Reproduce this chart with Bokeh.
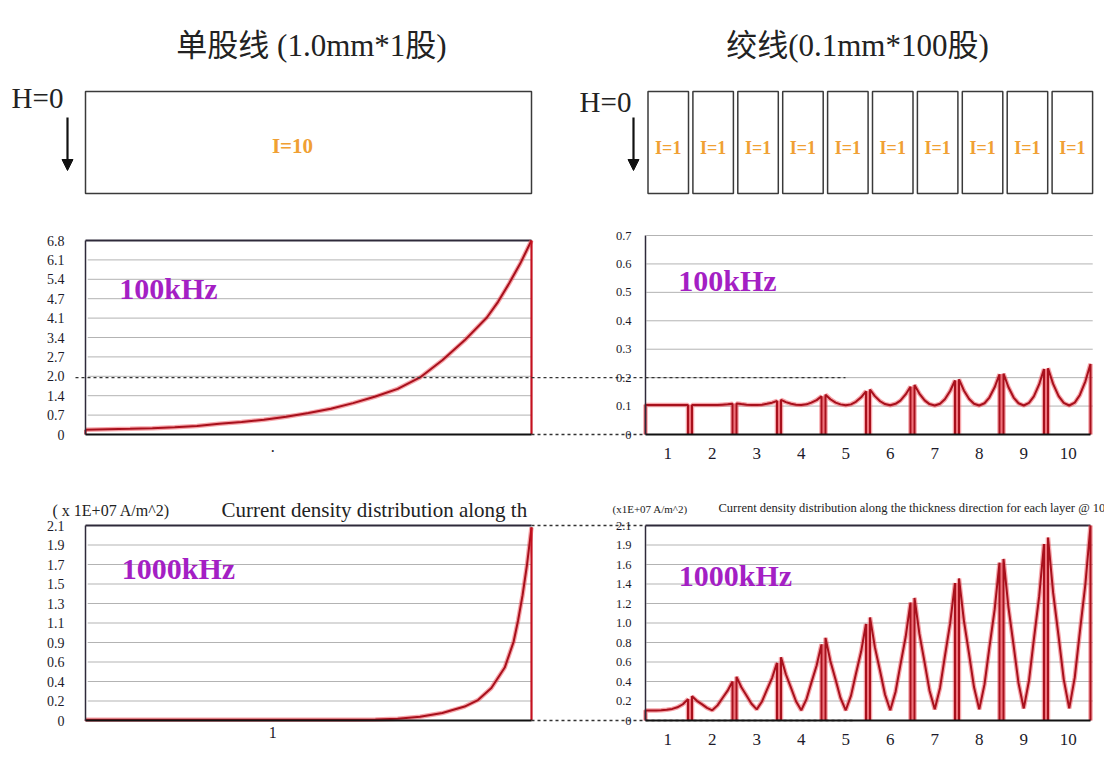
from bokeh.plotting import figure
from bokeh.models import Range1d, LinearAxis, FixedTicker, Arrow, NormalHead
from bokeh.core.properties import value as font_value
from bokeh.embed import file_html
from bokeh.resources import INLINE

# ------------------------------------------------------------------ data
left_title = "单股线 (1.0mm*1股)"
right_title = "绞线(0.1mm*100股)"
field_label = "H=0"
solid_label = "I=10"
strand_labels = ["I=1"] * 10
freq_low = "100kHz"
freq_high = "1000kHz"
unit_label_l = "( x 1E+07 A/m^2)"
unit_label_r = "(x1E+07 A/m^2)"
title_l = "Current density distribution along th"
title_r = "Current density distribution along the thickness direction for each layer @ 10"

# solid wire, 100 kHz : position across the thickness (0..1) -> density
solid100_x = [0, 0.1, 0.15, 0.2, 0.25, 0.3, 0.35, 0.4, 0.45, 0.5, 0.55, 0.6, 0.65, 0.7,
              0.75, 0.8, 0.85, 0.9, 0.925, 0.95, 0.975, 1.0]
solid100_y = [0.17, 0.20, 0.22, 0.25, 0.30, 0.38, 0.44, 0.52, 0.62, 0.75, 0.90, 1.1, 1.33, 1.6,
              2.0, 2.6, 3.3, 4.1, 4.65, 5.3, 6.0, 6.8]
solid100_ticks = [0, 0.68, 1.36, 2.04, 2.72, 3.4, 4.08, 4.76, 5.44, 6.12, 6.8]
solid100_labels = ["0", "0.7", "1.4", "2.0", "2.7", "3.4", "4.1", "4.7", "5.4", "6.1", "6.8"]

# solid wire, 1000 kHz
solid1000_x = [0, 0.1, 0.2, 0.3, 0.4, 0.5, 0.6, 0.65, 0.7, 0.75, 0.8, 0.85, 0.88, 0.91,
               0.94, 0.96, 0.97, 0.98, 0.99, 1.0]
solid1000_y = [0.008, 0.008, 0.008, 0.008, 0.008, 0.008, 0.009, 0.012, 0.02, 0.04, 0.08,
               0.15, 0.22, 0.35, 0.57, 0.85, 1.08, 1.35, 1.68, 2.08]
solid1000_ticks = [0, 0.21, 0.42, 0.63, 0.84, 1.05, 1.26, 1.47, 1.68, 1.89, 2.1]
solid1000_labels = ["0", "0.2", "0.4", "0.6", "0.9", "1.1", "1.3", "1.5", "1.7", "1.9", "2.1"]

solid_xtick = [0.42]
solid100_xlabel = ["."]
solid1000_xlabel = ["1"]

# stranded wire: 10 layers, samples at fractional positions inside each layer
layer_names = ["1", "2", "3", "4", "5", "6", "7", "8", "9", "10"]
layer_ticks = [0.5, 1.5, 2.5, 3.5, 4.5, 5.5, 6.5, 7.5, 8.5, 9.5]
layer_t = [0, 0.12, 0.25, 0.37, 0.5, 0.63, 0.75, 0.88, 1.0]

strand100 = [
    [0.104, 0.104, 0.104, 0.104, 0.104, 0.104, 0.104, 0.104, 0.104],
    [0.104, 0.104, 0.104, 0.104, 0.104, 0.104, 0.105, 0.106, 0.108],
    [0.109, 0.107, 0.105, 0.104, 0.104, 0.105, 0.108, 0.112, 0.118],
    [0.122, 0.114, 0.108, 0.105, 0.104, 0.106, 0.112, 0.121, 0.134],
    [0.140, 0.124, 0.112, 0.106, 0.103, 0.106, 0.115, 0.131, 0.152],
    [0.158, 0.135, 0.117, 0.107, 0.103, 0.108, 0.119, 0.141, 0.168],
    [0.174, 0.144, 0.120, 0.107, 0.102, 0.108, 0.124, 0.153, 0.190],
    [0.194, 0.155, 0.125, 0.108, 0.102, 0.110, 0.130, 0.166, 0.212],
    [0.214, 0.167, 0.130, 0.110, 0.102, 0.111, 0.134, 0.176, 0.230],
    [0.233, 0.178, 0.135, 0.111, 0.102, 0.112, 0.139, 0.187, 0.248],
]
strand100_ticks = [0, 0.1, 0.2, 0.3, 0.4, 0.5, 0.6, 0.7]
strand100_labels = ["0", "0.1", "0.2", "0.3", "0.4", "0.5", "0.6", "0.7"]

strand1000 = [
    [0.107, 0.107, 0.108, 0.110, 0.115, 0.125, 0.142, 0.175, 0.230],
    [0.26, 0.212, 0.173, 0.136, 0.11, 0.163, 0.24, 0.321, 0.42],
    [0.47, 0.358, 0.267, 0.18, 0.12, 0.205, 0.33, 0.46, 0.62],
    [0.68, 0.498, 0.349, 0.207, 0.11, 0.231, 0.408, 0.593, 0.82],
    [0.89, 0.64, 0.438, 0.243, 0.11, 0.268, 0.501, 0.742, 1.04],
    [1.11, 0.79, 0.53, 0.28, 0.11, 0.307, 0.597, 0.899, 1.27],
    [1.32, 0.936, 0.624, 0.324, 0.12, 0.351, 0.691, 1.045, 1.48],
    [1.53, 1.079, 0.712, 0.36, 0.12, 0.389, 0.784, 1.194, 1.70],
    [1.74, 1.225, 0.806, 0.404, 0.13, 0.431, 0.873, 1.334, 1.90],
    [1.97, 1.381, 0.903, 0.443, 0.13, 0.465, 0.957, 1.47, 2.10],
]
strand1000_ticks = [0, 0.21, 0.42, 0.63, 0.84, 1.05, 1.26, 1.47, 1.68, 1.89, 2.1]
strand1000_labels = ["0", "0.2", "0.4", "0.6", "0.8", "1.0", "1.2", "1.4", "1.6", "1.9", "2.1"]

# ------------------------------------------------------------------ layout helpers
W, H = 1104, 756
CX0, CX1 = 0, W      # page pixels covered by the canvas (horizontal)
CY0, CY1 = 0, H      # (vertical)


def hrange(d0, d1, p0, p1):
    s = (d1 - d0) / (p1 - p0)
    return Range1d(d0 + (CX0 - p0) * s, d0 + (CX1 - p0) * s)


def vrange(d0, d1, p0, p1):
    s = (d1 - d0) / (p0 - p1)
    return Range1d(d0 - (CY1 - p0) * s, d0 + (p0 - CY0) * s)


R_LEFT, R_RIGHT = 645, 1090


def px_to_rx(px):
    return (px - R_LEFT) / ((R_RIGHT - R_LEFT) / 10.0)


SERIF = "Liberation Serif"
RED_CORE = "#a8101c"
RED_GLOW = "#ee4b55"
GRID = "#b3b3b3"
FRAME = "#2e2a3a"
PURPLE = "#a41fc4"
ORANGE = "#f0a033"

p = figure(width=W, height=H, x_range=Range1d(CX0, CX1), y_range=Range1d(CY1, CY0),
           x_axis_type=None, y_axis_type=None, toolbar_location=None, output_backend="svg",
           min_border=0, outline_line_color=None, background_fill_color="white")

p.extra_x_ranges = {
    "lx": hrange(0, 1, 85, 531),
    "rx": hrange(0, 10, R_LEFT, R_RIGHT),
}
p.extra_y_ranges = {
    "ly1": vrange(0, 6.8, 434, 240),
    "ry1": vrange(0, 0.7, 434, 235),
    "ly2": vrange(0, 2.1, 720, 525),
    "ry2": vrange(0, 2.1, 720, 525),
}


def htext(x, y, t, size, color="#222222", bold=False, font=SERIF, align="center"):
    p.text(x=[x], y=[y], text=[t], text_font=font_value(font), text_font_size=size,
           text_color=color, text_align=align, text_baseline="middle",
           text_font_style="bold" if bold else "normal")


# ------------------------------------------------------------------ header diagrams
CJK = SERIF + ", Noto Sans CJK SC"
htext(311, 45, left_title, "31px", font=CJK)
htext(857, 45, right_title, "31px", font=CJK)
htext(37, 97, field_label, "29px")
htext(605, 101, field_label, "29px")
for xa in (67, 633):
    p.add_layout(Arrow(end=NormalHead(size=11, fill_color="#111111", line_color="#111111"),
                       x_start=xa, y_start=117, x_end=xa, y_end=170,
                       line_width=2.2, line_color="#111111"))

p.quad(left=[85], right=[531], top=[91], bottom=[193], fill_color="white",
       line_color="#3a3a3a", line_width=1.5)
htext(292, 145, solid_label, "21px", color=ORANGE, bold=True)

pitch, bw, b0 = 44.9, 40.5, 647.5
lefts = [b0 + i * pitch for i in range(len(strand_labels))]
p.quad(left=lefts, right=[l + bw for l in lefts], top=91, bottom=193,
       fill_color="white", line_color="#3a3a3a", line_width=1.5)
p.text(x=[l + bw / 2 for l in lefts], y=[147] * len(lefts), text=strand_labels,
       text_font=font_value(SERIF), text_font_size="18px", text_font_style="bold",
       text_color=ORANGE, text_align="center", text_baseline="middle")


# ------------------------------------------------------------------ chart helpers
def grid_lines(xr, yr, x0, x1, ys):
    p.segment(x0=[x0] * len(ys), x1=[x1] * len(ys), y0=ys, y1=ys, line_color=GRID,
              line_width=1, x_range_name=xr, y_range_name=yr)


def red_line(xs, ys, xr, yr, multi=False):
    f = p.multi_line if multi else p.line
    f(xs, ys, line_color=RED_GLOW, line_width=4.5, line_alpha=0.5,
      x_range_name=xr, y_range_name=yr)
    f(xs, ys, line_color=RED_CORE, line_width=2, x_range_name=xr, y_range_name=yr)


def y_axis(xr, yr, ticks, labels, size, standoff, color=FRAME):
    ax = LinearAxis(x_range_name=xr, y_range_name=yr, fixed_location=0,
                    bounds=(ticks[0], ticks[-1]), ticker=FixedTicker(ticks=ticks),
                    major_label_overrides=dict(zip(ticks, labels)))
    ax.axis_line_color = color
    ax.axis_line_width = 1.5
    ax.major_tick_line_color = None
    ax.minor_tick_line_color = None
    ax.major_label_standoff = standoff
    ax.major_label_text_font = SERIF
    ax.major_label_text_font_size = size
    ax.major_label_text_color = "#1c1a2a"
    p.add_layout(ax, "left")


def x_axis(xr, yr, ticks, labels, bounds, size, standoff):
    ax = LinearAxis(x_range_name=xr, y_range_name=yr, fixed_location=0,
                    bounds=bounds, ticker=FixedTicker(ticks=ticks),
                    major_label_overrides=dict(zip(ticks, labels)))
    ax.axis_line_color = "#111111"
    ax.axis_line_width = 2
    ax.major_tick_line_color = None
    ax.minor_tick_line_color = None
    ax.major_label_standoff = standoff
    ax.major_label_text_font = SERIF
    ax.major_label_text_font_size = size
    ax.major_label_text_color = "#1c1a2a"
    p.add_layout(ax, "below")


def dashed(yr, yv, px0, px1):
    p.line([px_to_rx(px0), px_to_rx(px1)], [yv, yv], line_color="#333333", line_width=1.3,
           line_dash="3 3", x_range_name="rx", y_range_name=yr)


def solid_chart(xs, ys, yr, ticks, labels, xlabel):
    grid_lines("lx", yr, 0.005, 1, ticks[1:-1])
    p.line([0, 1], [ticks[-1], ticks[-1]], line_color=FRAME, line_width=2,
           x_range_name="lx", y_range_name=yr)
    red_line(xs, ys, "lx", yr)
    p.segment(x0=[0, 1], x1=[0, 1], y0=[0, 0], y1=[ys[0], ys[-1]], line_color="#c4111f",
              line_width=2.2, x_range_name="lx", y_range_name=yr)
    y_axis("lx", yr, ticks, labels, "14px", 15)
    x_axis("lx", yr, solid_xtick, xlabel, (0, 1), "16px", 0)


def strand_chart(layers, yr, ticks, labels, top_border):
    gap = 0.045
    n = len(layers)
    gl = ticks[1:] if not top_border else ticks[1:-1]
    grid_lines("rx", yr, 0.02, 10.05, gl)
    if top_border:
        p.line([0, 10], [ticks[-1], ticks[-1]], line_color=FRAME, line_width=2,
               x_range_name="rx", y_range_name=yr)
    p.quad(left=[k + 1 - gap for k in range(n - 1)], right=[k + 1 + gap for k in range(n - 1)],
           bottom=0, top=[v[-1] for v in layers[:-1]], fill_color="#f3a0a8", fill_alpha=0.85,
           line_color=None, x_range_name="rx", y_range_name=yr)
    xs, ys = [], []
    for k, v in enumerate(layers):
        x0 = k + (gap if k > 0 else 0)
        x1 = k + 1 - (gap if k < n - 1 else 0)
        xs.append([x0] + [x0 + t * (x1 - x0) for t in layer_t] + [x1])
        ys.append([0] + list(v) + [0])
    red_line(xs, ys, "rx", yr, multi=True)
    y_axis("rx", yr, ticks, labels, "12.5px", 8)
    x_axis("rx", yr, layer_ticks, layer_names, (0, 10), "17px", 7)


# ------------------------------------------------------------------ charts
solid_chart(solid100_x, solid100_y, "ly1", solid100_ticks, solid100_labels, solid100_xlabel)
solid_chart(solid1000_x, solid1000_y, "ly2", solid1000_ticks, solid1000_labels, solid1000_xlabel)
strand_chart(strand100, "ry1", strand100_ticks, strand100_labels, top_border=False)
strand_chart(strand1000, "ry2", strand1000_ticks, strand1000_labels, top_border=True)

# dashed guide lines linking the panels
dashed("ry1", 0.2, 75, 845)
dashed("ry1", 0.0, 531, 645)
dashed("ry2", 2.1, 531, 645)
dashed("ry2", 0.0, 531, 855)

# frequency tags and titles
htext(168, 288, freq_low, "30px", color=PURPLE, bold=True)
htext(727, 280, freq_low, "30px", color=PURPLE, bold=True)
htext(178, 568, freq_high, "30px", color=PURPLE, bold=True)
htext(735, 575, freq_high, "30px", color=PURPLE, bold=True)
htext(52, 510, unit_label_l, "16px", align="left")
htext(221, 509, title_l, "21px", align="left")
htext(612, 508, unit_label_r, "11px", align="left")
htext(718, 507, title_r, "12.5px", align="left")

open("out.html", "w").write(file_html(p, INLINE))
